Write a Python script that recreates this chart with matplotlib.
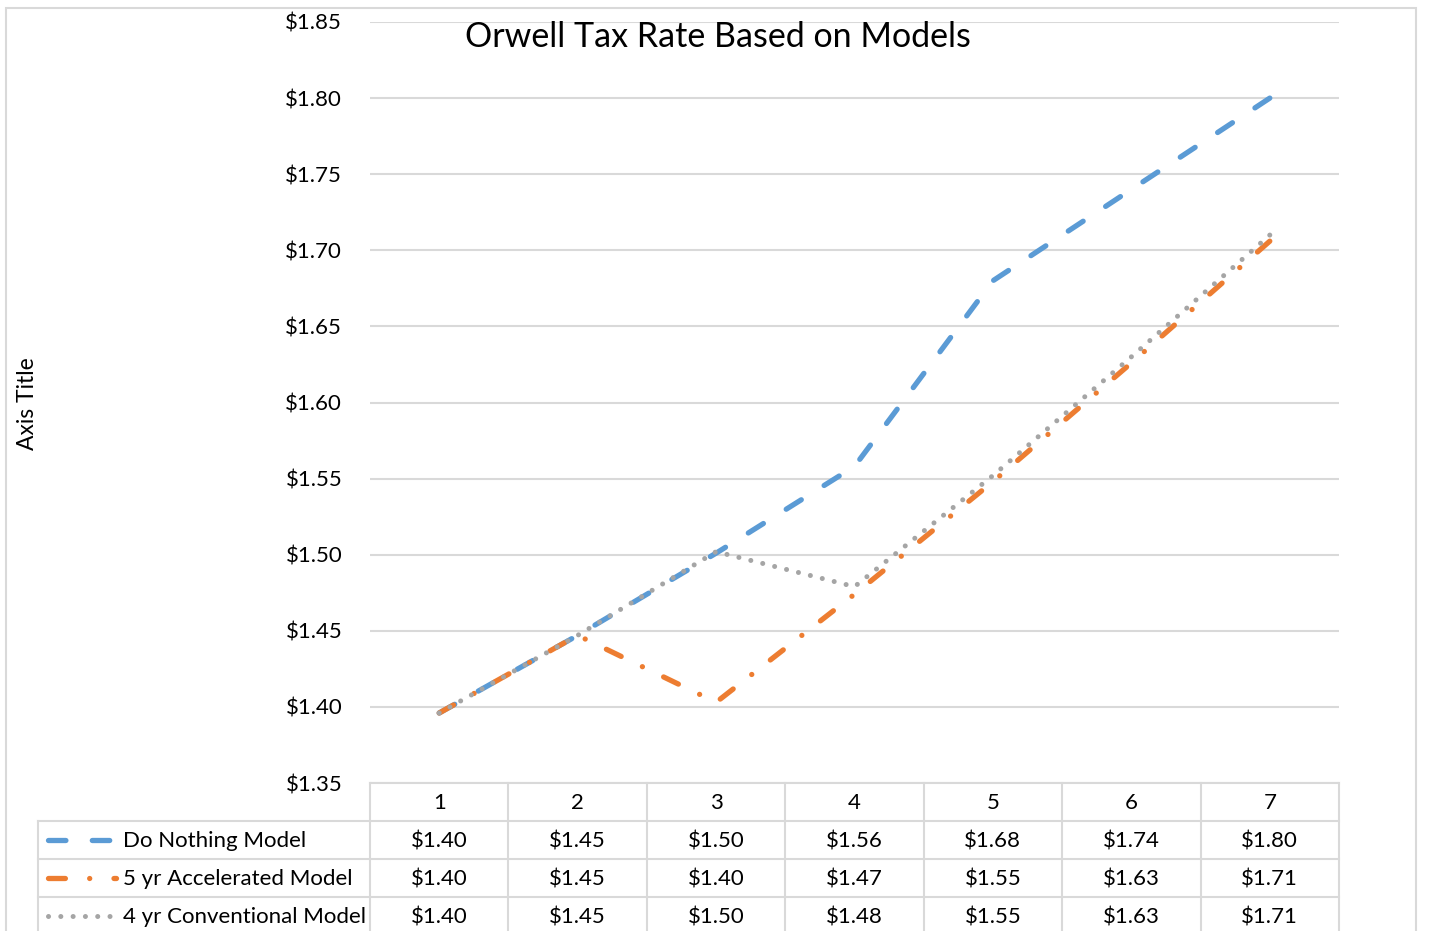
import matplotlib
matplotlib.use('Agg')
import numpy as np
import matplotlib.pyplot as plt
from matplotlib.lines import Line2D
from matplotlib.patches import Rectangle
from matplotlib.ticker import FuncFormatter

# ---------------- data ----------------
categories = [1, 2, 3, 4, 5, 6, 7]
series_names = ["Do Nothing Model", "5 yr Accelerated Model", "4 yr Conventional Model"]
do_nothing = [1.396, 1.447, 1.501, 1.558, 1.680, 1.740, 1.800]
accelerated = [1.396, 1.447, 1.403, 1.474, 1.548, 1.626, 1.706]
conventional = [1.396, 1.447, 1.502, 1.479, 1.552, 1.630, 1.710]
y_ticks = [1.35, 1.40, 1.45, 1.50, 1.55, 1.60, 1.65, 1.70, 1.75, 1.80, 1.85]
title = "Orwell Tax Rate Based on Models"
y_title = "Axis Title"

# ---------------- style ----------------
FONT = ['Lato', 'DejaVu Sans']
plt.rcParams['font.family'] = FONT
GRID = '#d9d9d9'
FS = 16
styles = [
    dict(color='#5B9BD5', lw=3.8, dashes=(3.3, 5.0)),
    dict(color='#ED7D31', lw=3.8, dashes=(3.2, 4.6, 0.01, 4.6)),
    dict(color='#A5A5A5', lw=3.6, dashes=(0.01, 2.45)),
]
series = [do_nothing, accelerated, conventional]

W, H = 1433, 931
fig = plt.figure(figsize=(W / 100, H / 100), dpi=100)
fx = lambda x: x / W
fy = lambda y: 1 - y / H

ax = fig.add_axes([fx(370), fy(783), 969 / W, 761 / H])
ax.set_xlim(0.5, 7.5)
ax.set_ylim(1.35, 1.85)

# stretch the dash pattern slightly so each line starts and ends on a visible mark
for vals, st in zip(series, styles):
    pts = ax.transData.transform(np.column_stack([categories, vals]))
    L_px = np.sum(np.hypot(*np.diff(pts, axis=0).T))
    L_u = L_px * 72 / 100 / st['lw']            # length in linewidth units
    period = sum(st['dashes'])
    d = st['dashes'][0]
    n = max(1, round((L_u - d) / period))
    scale = L_u / (n * period + d)
    pattern = tuple(v * scale for v in st['dashes'])
    ax.plot(categories, vals, color=st['color'], lw=st['lw'],
            linestyle=(0, pattern),
            dash_capstyle='round', solid_capstyle='round', clip_on=False)

ax.set_yticks(y_ticks)
ax.yaxis.set_major_formatter(FuncFormatter(lambda v, p: f"${v:.2f}"))
ax.set_xticks([])
ax.tick_params(axis='y', length=0, pad=20, labelsize=FS)
ax.yaxis.grid(True, color=GRID, lw=1.5)
ax.set_axisbelow(True)
for s in ax.spines.values():
    s.set_visible(False)

# title and axis title
fig.text(fx(718), fy(37), title, ha='center', va='center', fontsize=24.5)
fig.text(fx(28), fy(404), y_title, ha='center', va='center', rotation=90, fontsize=16.5)

# ---------------- data table ----------------
row_lines = [783, 821, 859, 897]
row_centers = [803, 841, 879, 917]
bottom = 940
col_x = [0.5 + k for k in range(len(categories) + 1)]

def data_to_px(xd):
    return ax.transData.transform((xd, 1.5))[0]

col_px = [data_to_px(c) for c in col_x]

for cx in col_px:
    fig.add_artist(Line2D([fx(cx), fx(cx)], [fy(783), fy(bottom)], color=GRID, lw=1.5,
                          transform=fig.transFigure))
fig.add_artist(Line2D([fx(38), fx(38)], [fy(821), fy(bottom)], color=GRID, lw=1.5,
                      transform=fig.transFigure))
fig.add_artist(Line2D([fx(col_px[0]), fx(col_px[-1])], [fy(783), fy(783)], color=GRID, lw=1.5,
                      transform=fig.transFigure))
for ry in row_lines[1:]:
    fig.add_artist(Line2D([fx(38), fx(col_px[-1])], [fy(ry), fy(ry)], color=GRID, lw=1.5,
                          transform=fig.transFigure))

# header row
for i, c in enumerate(categories):
    xc = (col_px[i] + col_px[i + 1]) / 2
    fig.text(fx(xc), fy(row_centers[0]), str(c), ha='center', va='center', fontsize=FS)

# series rows
for r, (name, vals, st) in enumerate(zip(series_names, series, styles)):
    yc = row_centers[r + 1] - 1
    fig.add_artist(Line2D([fx(48), fx(116)], [fy(yc), fy(yc)], color=st['color'], lw=st['lw'],
                          dashes=st['dashes'], dash_capstyle='round', solid_capstyle='round',
                          transform=fig.transFigure))
    fig.text(fx(123), fy(row_centers[r + 1]), name, ha='left', va='center', fontsize=FS)
    for i, v in enumerate(vals):
        xc = (col_px[i] + col_px[i + 1]) / 2
        fig.text(fx(xc), fy(row_centers[r + 1]), f"${v:.2f}", ha='center', va='center', fontsize=FS)

# chart border
fig.add_artist(Rectangle((fx(5.5), fy(940)), (1416 - 5.5) / W, (940 - 8) / H, fill=False,
                         edgecolor=GRID, lw=1.5, transform=fig.transFigure))

fig.savefig('out.png', dpi=100)
